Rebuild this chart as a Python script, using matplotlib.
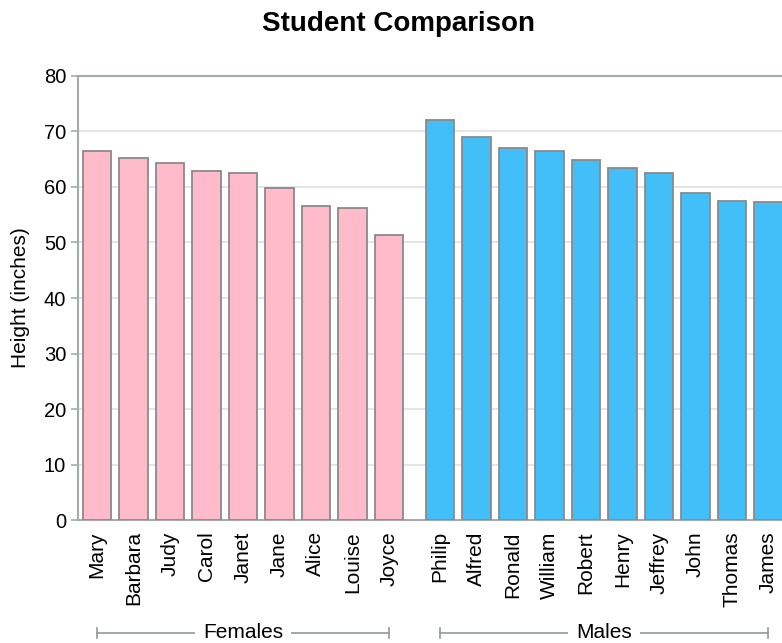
import matplotlib

matplotlib.use("Agg")
import matplotlib.pyplot as plt
import matplotlib.transforms as mtransforms
import numpy as np

plt.rcParams["font.family"] = ["Liberation Sans", "DejaVu Sans"]

# Heights of the students, grouped by sex and sorted tallest first
female_names = ["Mary", "Barbara", "Judy", "Carol", "Janet", "Jane", "Alice", "Louise", "Joyce"]
female_heights = [66.5, 65.3, 64.3, 62.8, 62.5, 59.8, 56.5, 56.3, 51.3]
male_names = ["Philip", "Alfred", "Ronald", "William", "Robert", "Henry", "Jeffrey", "John", "Thomas", "James"]
male_heights = [72.0, 69.0, 67.0, 66.5, 64.8, 63.5, 62.5, 59.0, 57.5, 57.3]
group_labels = ["Females", "Males"]
y_ticks = [0, 10, 20, 30, 40, 50, 60, 70, 80]

pink = "#FFBBC9"
blue = "#42BEF8"
edge = "#8A8A8A"
axis_gray = "#A3ABAB"
group_gap = 0.4

x_f = np.arange(len(female_names), dtype=float)
x_m = np.arange(len(male_names), dtype=float) + len(female_names) + group_gap

fig = plt.figure(figsize=(7.82, 6.43), dpi=100)
ax = fig.add_axes([0.0997, 0.191, 0.9003, 0.691])

ax.bar(x_f, female_heights, width=0.78, color=pink, edgecolor=edge, linewidth=1.3, zorder=3)
ax.bar(x_m, male_heights, width=0.78, color=blue, edgecolor=edge, linewidth=1.3, zorder=3)

ax.set_xlim(-0.52, x_m[-1] + 0.37)
ax.set_ylim(0, 80)
ax.set_yticks(y_ticks)
ax.yaxis.grid(True, color="#E0E0E0", linewidth=1.2, zorder=0)
ax.set_axisbelow(True)

ax.set_xticks(np.concatenate([x_f, x_m]))
ax.set_xticklabels(female_names + male_names, rotation=90, fontsize=15)
ax.tick_params(axis="x", length=0, pad=8)
ax.tick_params(axis="y", labelsize=14.5, color=axis_gray, length=5, width=1.2)

for side in ("left", "top", "bottom"):
    ax.spines[side].set_color(axis_gray)
    ax.spines[side].set_linewidth(1.5)
ax.spines["right"].set_visible(False)

ax.set_ylabel("Height (inches)", fontsize=15, labelpad=10)
fig.text(0.51, 1 - 24 / 643, "Student Comparison", fontsize=20, fontweight="bold",
         ha="center", va="center")

# Group brackets under the category labels
trans = mtransforms.blended_transform_factory(ax.transData, fig.transFigure)
y_br = 1 - 633 / 643
for xs, label in ((x_f, group_labels[0]), (x_m, group_labels[1])):
    x0, x1 = xs[0], xs[-1]
    ax.plot([x0, x1], [y_br, y_br], transform=trans, color="#909898", lw=1.2, clip_on=False)
    for xe in (x0, x1):
        ax.plot([xe, xe], [y_br - 0.008, y_br + 0.008], transform=trans,
                color="#909898", lw=1.2, clip_on=False)
    ax.text((x0 + x1) / 2, y_br, label, transform=trans, ha="center", va="center",
            fontsize=15, bbox=dict(facecolor="white", edgecolor="none", pad=6))

fig.savefig("out.png", dpi=100)
